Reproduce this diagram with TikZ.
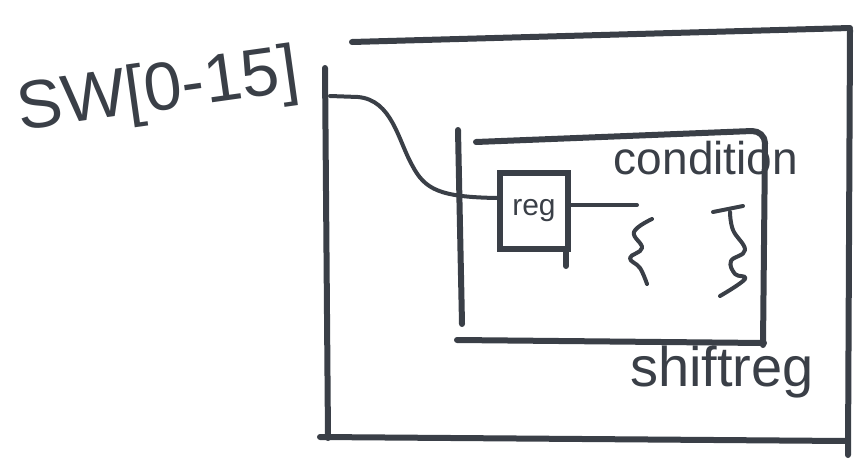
\documentclass[tikz,border=0pt]{standalone}
\usepackage{fontspec}
\setmainfont{Liberation Sans}
\usetikzlibrary{calc}
\definecolor{ink}{HTML}{3A3F47}
\begin{document}
\begin{tikzpicture}[x=1pt,y=-1pt,
  inkline/.style={draw=ink, line width=6pt, line cap=round, line join=round},
  wire/.style={draw=ink, line width=4pt, line cap=round, line join=round},
  lbl/.style={text=ink, inner sep=0pt}]
\useasboundingbox (0,0) rectangle (862,469);
% outer box
\draw[inkline] (352,42) -- (850,28);
\draw[inkline] (850,30) -- (848,455);
\draw[inkline] (320,437) -- (846,441);
\draw[inkline] (325,68) -- (328,438);
% input label
\node[lbl, font=\fontsize{68}{68}\selectfont, rotate=8] (sw) at (158,93) {SW[0-15]};
% inner box
\draw[inkline] (476,142) -- (752,131) to[out=0,in=90] (765,143) -- (763,345);
\draw[inkline] (458,130) -- (462,324);
\draw[inkline] (457,340) -- (764,343);
\node[lbl, font=\fontsize{46}{46}\selectfont] (cond) at (706,158) {condition};
\node[lbl, font=\fontsize{56}{56}\selectfont] (shift) at (722,372) {shiftreg};
% reg box
\node[draw=ink, line width=6pt, text=ink, minimum width=68pt, minimum height=76pt,
      inner sep=0pt, font=\fontsize{30}{30}\selectfont] (reg) at (534,211) {reg};
\draw[inkline] (reg.south east) ++(-5,0) -- ++(0,14);
% connectors
\coordinate (inport) at (330,96);
\coordinate (regout) at (637,205);
\draw[wire] (inport) -- (358,97) .. controls (392,100) and (398,140) .. (412,165)
  .. controls (425,190) and (440,197) .. ($(reg.west)+(0,-13)$);
\draw[wire] (reg.east |- regout) -- (regout);
% squiggles
\draw[wire] plot[smooth, tension=0.7] coordinates {(652,219) (634,232) (642,248) (630,258) (640,268) (647,284)};
\draw[wire] (713,212) -- (743,206);
\draw[wire] plot[smooth, tension=0.7] coordinates {(730,212) (733,230) (745,250) (731,261) (735,274) (745,279) (720,296)};
\end{tikzpicture}
\end{document}
